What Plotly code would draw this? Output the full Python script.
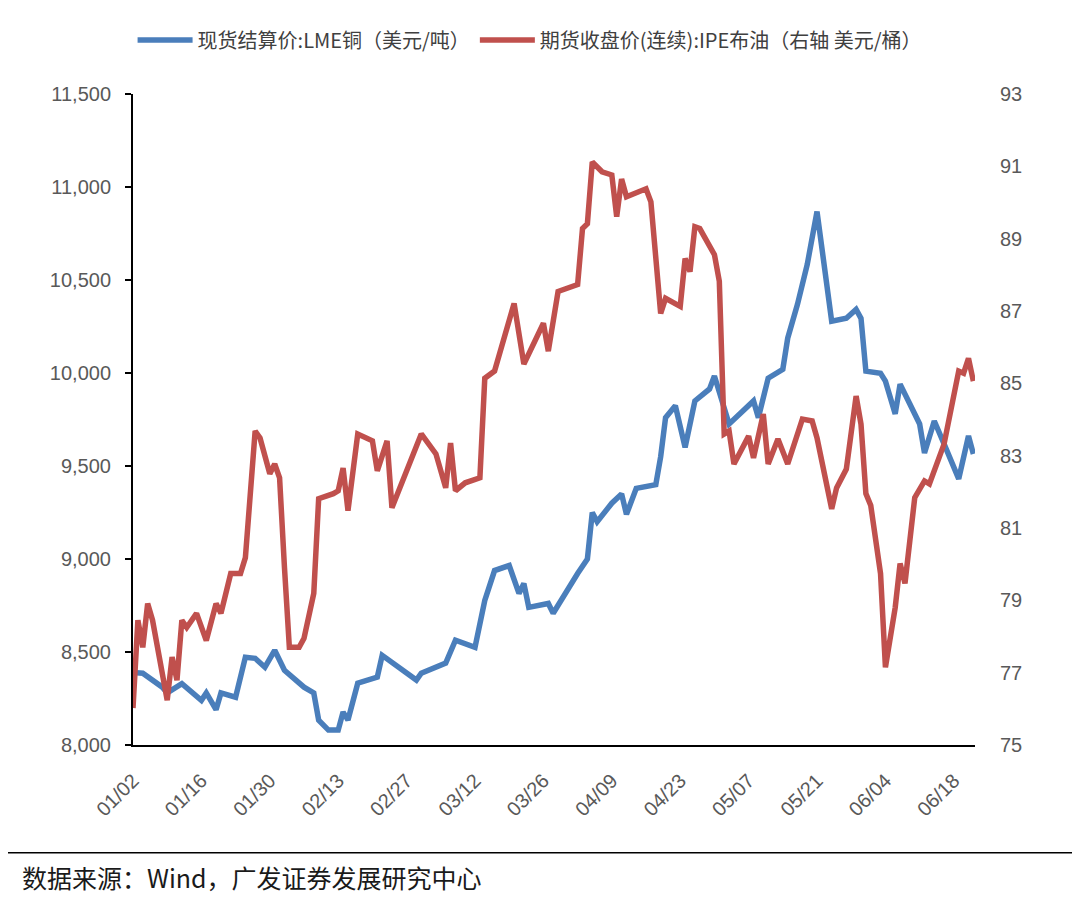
import plotly.graph_objects as go

# LME copper, cash settlement (USD/t) - left axis
copper_dates = [
    "2024-01-02", "2024-01-04", "2024-01-08", "2024-01-09", "2024-01-12", "2024-01-16",
    "2024-01-17", "2024-01-19", "2024-01-20", "2024-01-23", "2024-01-25", "2024-01-27",
    "2024-01-29", "2024-01-31", "2024-02-02", "2024-02-06", "2024-02-08", "2024-02-09",
    "2024-02-11", "2024-02-13", "2024-02-14", "2024-02-15", "2024-02-17", "2024-02-21",
    "2024-02-22", "2024-02-27", "2024-02-29", "2024-03-01", "2024-03-06", "2024-03-08",
    "2024-03-12", "2024-03-14", "2024-03-16", "2024-03-19", "2024-03-21", "2024-03-22",
    "2024-03-23", "2024-03-27", "2024-03-28", "2024-04-02", "2024-04-04", "2024-04-05",
    "2024-04-06", "2024-04-09", "2024-04-11", "2024-04-12", "2024-04-14", "2024-04-18",
    "2024-04-19", "2024-04-20", "2024-04-22", "2024-04-24", "2024-04-26", "2024-04-29",
    "2024-04-30", "2024-05-03", "2024-05-08", "2024-05-09", "2024-05-11", "2024-05-14",
    "2024-05-15", "2024-05-17", "2024-05-19", "2024-05-21", "2024-05-22", "2024-05-24",
    "2024-05-27", "2024-05-29", "2024-05-30", "2024-05-31", "2024-06-03", "2024-06-04",
    "2024-06-06", "2024-06-07", "2024-06-09", "2024-06-11", "2024-06-12", "2024-06-14",
    "2024-06-16", "2024-06-19", "2024-06-21", "2024-06-22",
]
copper_values = [
    8390, 8386, 8311, 8280, 8330, 8240,
    8280, 8190, 8280, 8257, 8472, 8466,
    8418, 8509, 8402, 8311, 8280, 8134,
    8080, 8080, 8177, 8134, 8332, 8365,
    8482, 8391, 8349, 8386, 8440, 8563,
    8525, 8777, 8938, 8965, 8815, 8868,
    8740, 8761, 8708, 8922, 9000, 9250,
    9200, 9300, 9350, 9240, 9380, 9400,
    9550, 9760, 9824, 9600, 9850, 9914,
    9984, 9726, 9850, 9760, 9972, 10020,
    10187, 10369, 10584, 10868, 10653, 10278,
    10294, 10342, 10294, 10010, 9999, 9956,
    9780, 9940, 9833, 9726, 9570, 9742,
    9619, 9431, 9662, 9565,
]

# IPE Brent continuous futures close (USD/bbl) - right axis
brent_dates = [
    "2024-01-02", "2024-01-03", "2024-01-04", "2024-01-05", "2024-01-06", "2024-01-09",
    "2024-01-10", "2024-01-11", "2024-01-12", "2024-01-13", "2024-01-15", "2024-01-17",
    "2024-01-19", "2024-01-20", "2024-01-22", "2024-01-24", "2024-01-25", "2024-01-27",
    "2024-01-28", "2024-01-30", "2024-01-31", "2024-02-01", "2024-02-02", "2024-02-03",
    "2024-02-05", "2024-02-06", "2024-02-08", "2024-02-09", "2024-02-12", "2024-02-13",
    "2024-02-14", "2024-02-15", "2024-02-17", "2024-02-20", "2024-02-21", "2024-02-23",
    "2024-02-24", "2024-03-01", "2024-03-04", "2024-03-06", "2024-03-07", "2024-03-08",
    "2024-03-10", "2024-03-13", "2024-03-14", "2024-03-16", "2024-03-20", "2024-03-22",
    "2024-03-26", "2024-03-27", "2024-03-29", "2024-03-31", "2024-04-02", "2024-04-03",
    "2024-04-04", "2024-04-05", "2024-04-07", "2024-04-09", "2024-04-10", "2024-04-11",
    "2024-04-12", "2024-04-16", "2024-04-17", "2024-04-19", "2024-04-20", "2024-04-23",
    "2024-04-24", "2024-04-25", "2024-04-26", "2024-04-27", "2024-04-30", "2024-05-01",
    "2024-05-02", "2024-05-03", "2024-05-04", "2024-05-07", "2024-05-08", "2024-05-10",
    "2024-05-11", "2024-05-13", "2024-05-15", "2024-05-18", "2024-05-20", "2024-05-21",
    "2024-05-23", "2024-05-24", "2024-05-25", "2024-05-27", "2024-05-29", "2024-05-30",
    "2024-05-31", "2024-06-01", "2024-06-03", "2024-06-04", "2024-06-06", "2024-06-07",
    "2024-06-08", "2024-06-10", "2024-06-12", "2024-06-13", "2024-06-16", "2024-06-19",
    "2024-06-20", "2024-06-21", "2024-06-22",
]
brent_values = [
    76.02, 78.45, 77.70, 78.91, 78.45, 76.24,
    77.43, 76.79, 78.45, 78.25, 78.64, 77.89,
    78.91, 78.64, 79.74, 79.74, 80.18, 83.68,
    83.49, 82.50, 82.77, 82.39, 79.91, 77.70,
    77.70, 77.95, 79.19, 81.81, 81.95, 82.03,
    82.66, 81.48, 83.60, 83.41, 82.58, 83.41,
    81.56, 83.60, 83.05, 82.11, 83.35, 82.03,
    82.25, 82.39, 85.14, 85.34, 87.21, 85.53,
    86.66, 85.89, 87.54, 87.62, 87.73, 89.28,
    89.41, 91.12, 90.85, 90.76, 89.61, 90.65,
    90.16, 90.38, 90.02, 86.93, 87.35, 87.13,
    88.45, 88.09, 89.33, 89.28, 88.56, 87.82,
    83.60, 83.68, 82.77, 83.54, 82.94, 84.15,
    82.77, 83.46, 82.77, 84.01, 83.96, 83.49,
    82.22, 81.53, 82.11, 82.63, 84.65, 83.87,
    81.95, 81.62, 79.74, 77.15, 78.80, 80.02,
    79.47, 81.84, 82.30, 82.22, 83.32, 85.34,
    85.28, 85.69, 85.06,
]

copper_name = "现货结算价:LME铜（美元/吨）"
brent_name = "期货收盘价(连续):IPE布油（右轴 美元/桶）"
source_text = "数据来源：Wind，广发证券发展研究中心"

BLUE = "#4a7ebb"
RED = "#c0504d"
TICK_FONT = dict(family="Liberation Sans, Arial", size=20, color="#595959")

fig = go.Figure()
fig.add_trace(go.Scatter(x=copper_dates, y=copper_values, name=copper_name, mode="lines",
                         line=dict(color=BLUE, width=5.5)))
fig.add_trace(go.Scatter(x=brent_dates, y=brent_values, name=brent_name, mode="lines",
                         line=dict(color=RED, width=5.5), yaxis="y2"))

# page body has an 8px offset, margins are set so the plot lands at 133..975 x 92..745
fig.update_layout(
    width=1080, height=904,
    margin=dict(l=125, r=113, t=84, b=167),
    paper_bgcolor="white", plot_bgcolor="white",
    showlegend=True,
    legend=dict(orientation="h", x=0.471, xanchor="center", y=1.083, yanchor="middle",
                font=dict(family="Noto Sans CJK SC", size=20, color="#404040"),
                itemwidth=55, bgcolor="rgba(0,0,0,0)"),
    xaxis=dict(type="date", range=["2024-01-02", "2024-06-22 08:00"],
               tick0="2024-01-02", dtick=14 * 86400000, tickformat="%m/%d",
               tickangle=-45, tickfont=TICK_FONT, showgrid=False, zeroline=False,
               showline=True, linecolor="black", linewidth=2, ticks="",
               ticklabelstandoff=14, automargin=False),
    yaxis=dict(range=[8000, 11500], dtick=500, tickformat=",", tickfont=TICK_FONT,
               showgrid=False, zeroline=False, showline=True, linecolor="black", linewidth=2,
               ticks="outside", ticklen=6, tickcolor="black", tickwidth=2,
               ticklabelstandoff=10, automargin=False),
    yaxis2=dict(range=[75, 93], tick0=75, dtick=2, overlaying="y", side="right",
                tickfont=TICK_FONT, showgrid=False, zeroline=False, showline=False,
                ticks="", ticklabelstandoff=24, automargin=False),
)

# bottom rule and data source note
fig.add_shape(type="line", xref="paper", yref="paper", x0=-0.17, x1=1.13, y0=-0.1654, y1=-0.1654,
              line=dict(color="black", width=1.5))
fig.add_annotation(text=source_text, xref="paper", yref="paper", x=-0.134, y=-0.202,
                   xanchor="left", yanchor="middle", showarrow=False,
                   font=dict(family="Noto Sans CJK SC", size=25, color="#1a1a1a"))

fig.write_html("out.html")
